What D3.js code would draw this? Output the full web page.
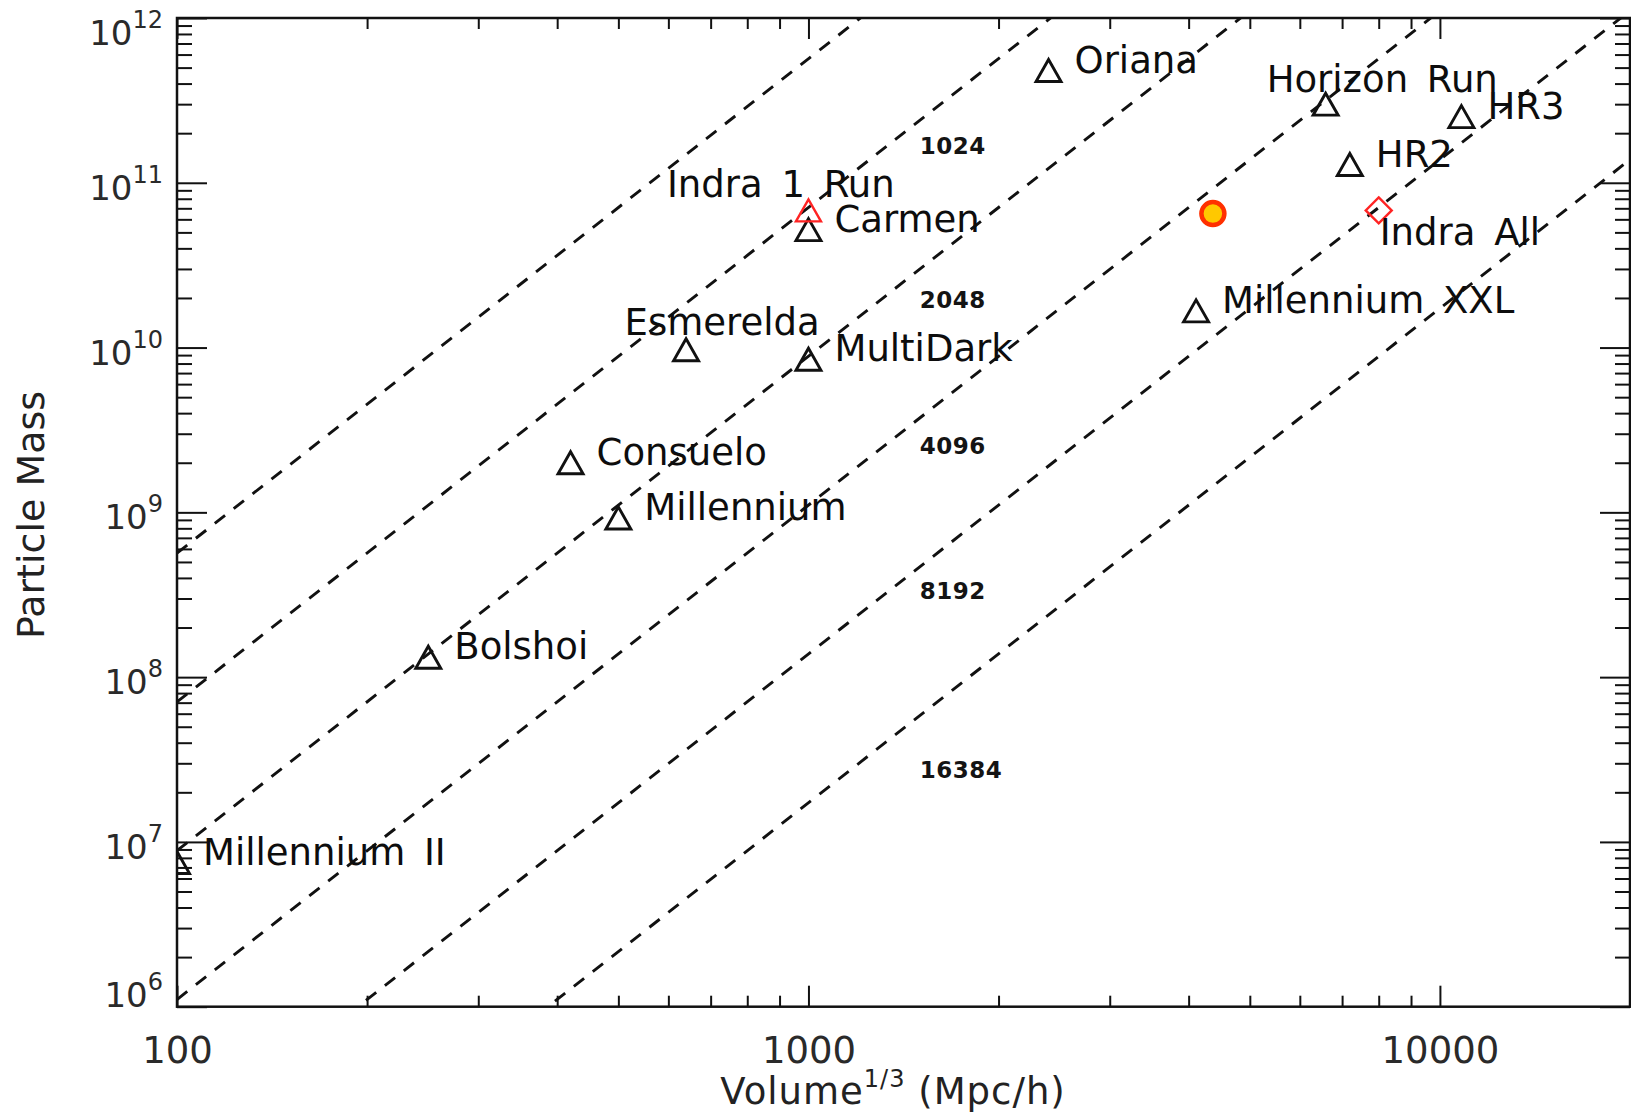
<!DOCTYPE html>
<html>
<head>
<meta charset="utf-8">
<script src="https://cdn.jsdelivr.net/npm/d3@7"></script>
<style>
  html, body { margin: 0; padding: 0; background: #fff; }
  svg { display: block; }
  text { font-family: "DejaVu Sans", sans-serif; }
</style>
</head>
<body>
<svg id="chart" width="1631" height="1117"></svg>
<script>
// Cosmological N-body simulations: box size (Mpc/h) against particle mass (Msun/h)
const simNames  = ["Oriana", "Carmen", "Esmerelda", "MultiDark", "Consuelo", "Millennium",
                   "Bolshoi", "Millennium II", "Horizon Run", "HR2", "HR3", "Millennium XXL"];
const simVolume = [2400, 1000, 640, 1000, 420, 500, 250, 100, 6592, 7200, 10815, 4110];
const simMass   = [4.8e11, 5.2e10, 9.7e9, 8.5e9, 2.0e9, 9.25e8, 1.32e8, 7.5e6, 3.0e11, 1.29e11, 2.52e11, 1.67e10];

// Indra: one run and the full suite
const indraRunName = ["Indra 1 Run"];
const indraRunVolume = [1000];
const indraRunMass = [6.8e10];
const indraAllName = ["Indra All"];
const indraAllVolume = [8000];
const indraAllMass = [6.8e10];

// Highlighted run
const highlightVolume = [4370];
const highlightMass = [6.5e10];

// Lines of constant particle number N^3: m = rho_m * L^3 / N^3
const particleCounts = [512, 1024, 2048, 4096, 8192, 16384];
const meanDensity = 7.6e10;            // Msun/h per (Mpc/h)^3
const countLabels = ["1024", "2048", "4096", "8192", "16384"];
const countLabelVolume = 1500;
const countLabelMass = [1.5e11, 1.75e10, 2.25e9, 3.0e8, 2.45e7];

// Axis ticks
const xTickLabels = ["100", "1000", "10000"];
const xMajorTicks = [100, 1000, 10000];
const yTickExponents = [6, 7, 8, 9, 10, 11, 12];

// ---------------------------------------------------------------
const svg = d3.select("#chart");
const L = 177, R = 1630, T = 18, B = 1006.7;

const x = d3.scaleLog().domain([100, 20000]).range([L, R]);
const y = d3.scaleLog().domain([1e6, 1e12]).range([B, T]);

svg.append("defs").append("clipPath").attr("id", "plotClip")
  .append("rect").attr("x", L).attr("y", T).attr("width", R - L).attr("height", B - T);

const plot = svg.append("g").attr("clip-path", "url(#plotClip)");

// constant-N guide lines
const line = d3.line().x(d => x(d[0])).y(d => y(d[1]));
const xEnds = x.domain();
plot.selectAll("path.nline")
  .data(particleCounts)
  .join("path")
  .attr("class", "nline")
  .attr("d", n => line(xEnds.map(v => [v, meanDensity * v * v * v / (n * n * n)])))
  .attr("fill", "none")
  .attr("stroke", "#111")
  .attr("stroke-width", 2.9)
  .attr("stroke-dasharray", "13,11");

// N labels
svg.selectAll("text.nlabel")
  .data(countLabels)
  .join("text")
  .attr("class", "nlabel")
  .attr("x", x(countLabelVolume))
  .attr("y", (d, i) => y(countLabelMass[i]))
  .attr("font-size", 23)
  .attr("font-weight", "bold")
  .attr("letter-spacing", 0.5)
  .attr("fill", "#141414")
  .text(d => d);

// markers
const triW = 12.5, triH = 11;
const triPath = (cx, cy) => `M${cx - triW},${cy + triH}L${cx + triW},${cy + triH}L${cx},${cy - triH}Z`;

const sims = simNames.map((n, i) => ({ name: n, v: simVolume[i], m: simMass[i] }));
plot.selectAll("path.sim")
  .data(sims)
  .join("path")
  .attr("class", "sim")
  .attr("d", d => triPath(x(d.v), y(d.m)))
  .attr("fill", "none")
  .attr("stroke", "#111")
  .attr("stroke-width", 2.9)
  .attr("stroke-linejoin", "miter");

plot.selectAll("path.indraRun")
  .data(indraRunVolume.map((v, i) => ({ v, m: indraRunMass[i] })))
  .join("path")
  .attr("class", "indraRun")
  .attr("d", d => triPath(x(d.v), y(d.m)))
  .attr("fill", "none")
  .attr("stroke", "#ff2424")
  .attr("stroke-width", 2.4);

plot.selectAll("path.indraAll")
  .data(indraAllVolume.map((v, i) => ({ v, m: indraAllMass[i] })))
  .join("path")
  .attr("class", "indraAll")
  .attr("d", d => {
    const cx = x(d.v), cy = y(d.m), s = 13;
    return `M${cx},${cy - s}L${cx + s},${cy}L${cx},${cy + s}L${cx - s},${cy}Z`;
  })
  .attr("fill", "none")
  .attr("stroke", "#ff2424")
  .attr("stroke-width", 2.4);

plot.selectAll("circle.hl")
  .data(highlightVolume.map((v, i) => ({ v, m: highlightMass[i] })))
  .join("circle")
  .attr("class", "hl")
  .attr("cx", d => x(d.v))
  .attr("cy", d => y(d.m))
  .attr("r", 11.5)
  .attr("fill", "#ffc800")
  .attr("stroke", "#ff3000")
  .attr("stroke-width", 4.5);

// point labels (default: to the right of the marker)
const labelShift = {
  "Horizon Run": [-59, -12.5],
  "Esmerelda": [-61.5, -14.5],
  "Indra 1 Run": [-141.5, -13.6],
  "Indra All": [1, 35]
};
const labelled = sims
  .concat(indraRunName.map((n, i) => ({ name: n, v: indraRunVolume[i], m: indraRunMass[i] })))
  .concat(indraAllName.map((n, i) => ({ name: n, v: indraAllVolume[i], m: indraAllMass[i] })));

svg.selectAll("text.simlabel")
  .data(labelled)
  .join("text")
  .attr("class", "simlabel")
  .attr("x", d => x(d.v) + (labelShift[d.name] || [26, 2])[0])
  .attr("y", d => y(d.m) + (labelShift[d.name] || [26, 2])[1])
  .attr("font-size", 37)
  .attr("word-spacing", 7)
  .attr("fill", "#0d0d0d")
  .text(d => d.name);

// ---------------- axes ----------------
const xMinor = x.ticks().filter(v => !xMajorTicks.includes(v) && v < 20000);
const yMajor = yTickExponents.map(e => Math.pow(10, e));
const yMinor = y.ticks().filter(v => !yMajor.includes(v));

function styleAxis(g) {
  g.select(".domain").remove();
  g.selectAll(".tick line").attr("stroke", "#111").attr("stroke-width", 2);
}

// bottom
svg.append("g").attr("transform", `translate(0,${B})`)
  .call(d3.axisBottom(x).tickValues(xMinor).tickSize(-11).tickFormat(""))
  .call(styleAxis);
const xb = svg.append("g").attr("transform", `translate(0,${B})`)
  .call(d3.axisBottom(x).tickValues(xMajorTicks).tickSize(-21)
        .tickFormat((d, i) => xTickLabels[i]))
  .call(styleAxis);
xb.selectAll("text")
  .attr("y", 56).attr("dy", null)
  .attr("font-size", 37)
  .attr("font-family", "DejaVu Sans, sans-serif")
  .attr("fill", "#2a2a2a");

// top
svg.append("g").attr("transform", `translate(0,${T})`)
  .call(d3.axisTop(x).tickValues(xMinor).tickSize(-11).tickFormat(""))
  .call(styleAxis);
svg.append("g").attr("transform", `translate(0,${T})`)
  .call(d3.axisTop(x).tickValues(xMajorTicks).tickSize(-21).tickFormat(""))
  .call(styleAxis);

// left
svg.append("g").attr("transform", `translate(${L},0)`)
  .call(d3.axisLeft(y).tickValues(yMinor).tickSize(-15).tickFormat(""))
  .call(styleAxis);
svg.append("g").attr("transform", `translate(${L},0)`)
  .call(d3.axisLeft(y).tickValues(yMajor).tickSize(-30).tickFormat(""))
  .call(styleAxis);

// right
svg.append("g").attr("transform", `translate(${R},0)`)
  .call(d3.axisRight(y).tickValues(yMinor).tickSize(-15).tickFormat(""))
  .call(styleAxis);
svg.append("g").attr("transform", `translate(${R},0)`)
  .call(d3.axisRight(y).tickValues(yMajor).tickSize(-30).tickFormat(""))
  .call(styleAxis);

// y tick labels as powers of ten; the end labels are kept inside the frame
const yLabelShift = e => (e === 12 ? 27 : e === 6 ? 0 : 17);
const yl = svg.selectAll("text.ylab")
  .data(yTickExponents)
  .join("text")
  .attr("class", "ylab")
  .attr("x", L - 14)
  .attr("y", e => y(Math.pow(10, e)) + yLabelShift(e))
  .attr("text-anchor", "end")
  .attr("fill", "#2a2a2a");
yl.append("tspan").attr("font-size", 34).text("10");
yl.append("tspan").attr("font-size", 24).attr("dy", -17).text(e => String(e));

// frame
svg.append("rect")
  .attr("x", L).attr("y", T).attr("width", R - L).attr("height", B - T)
  .attr("fill", "none").attr("stroke", "#111").attr("stroke-width", 2.5);

// axis titles
const xt = svg.append("text")
  .attr("x", 893).attr("y", 1104)
  .attr("text-anchor", "middle")
  .attr("font-size", 37)
  .attr("letter-spacing", 1)
  .attr("fill", "#222");
xt.append("tspan").text("Volume");
xt.append("tspan").attr("font-size", 24).attr("dy", -17).text("1/3");
xt.append("tspan").attr("dy", 17).text(" (Mpc/h)");

svg.append("text")
  .attr("transform", "translate(31,515) rotate(-90)")
  .attr("text-anchor", "middle")
  .attr("dominant-baseline", "central")
  .attr("font-size", 38)
  .attr("fill", "#222")
  .text("Particle Mass");
</script>
</body>
</html>
